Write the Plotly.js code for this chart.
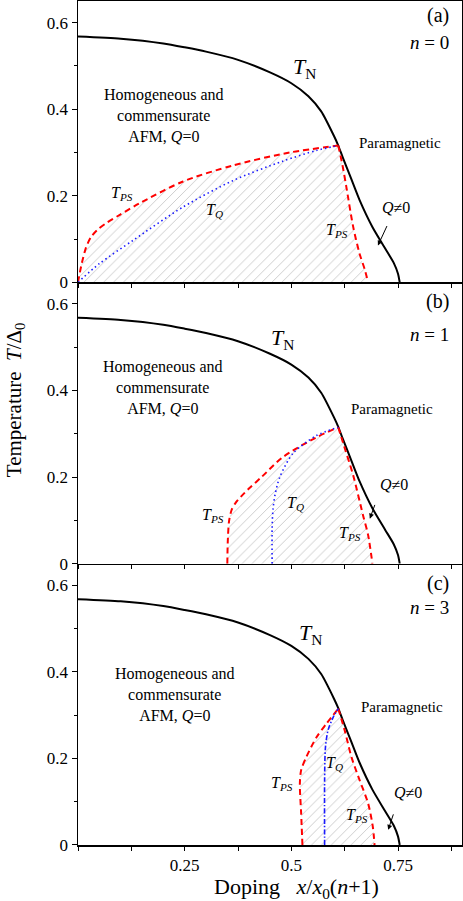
<!DOCTYPE html>
<html>
<head>
<meta charset="utf-8">
<script src="https://cdn.plot.ly/plotly-3.0.1.min.js"></script>
<style>
  html, body { margin: 0; padding: 0; background: #fff; }
  #chart { width: 463px; height: 901px; }
</style>
</head>
<body>
<div id="chart"></div>
<script>
/* Phase diagram T/Delta0 vs doping for n = 0, 1, 3. Values. */
(function () {
  "use strict";

  // Neel temperature T_N (same curve in all three panels)
  var TN_X = [0, 0.1, 0.2, 0.25, 0.3, 0.375, 0.45, 0.5, 0.54, 0.57, 0.6, 0.61, 0.62, 0.64, 0.66, 0.69, 0.72, 0.74, 0.75, 0.754];
  var TN_Y = [0.568, 0.563, 0.552, 0.543, 0.533, 0.514, 0.485, 0.46, 0.43, 0.395, 0.338, 0.316, 0.29, 0.24, 0.19, 0.128, 0.078, 0.045, 0.02, 0];

  // panel (a), n = 0
  var PS_LEFT_A_X = [0, 0.008, 0.018, 0.03, 0.045, 0.065, 0.098, 0.145, 0.246, 0.363, 0.496, 0.61];
  var PS_LEFT_A_Y = [0, 0.04, 0.078, 0.104, 0.121, 0.136, 0.156, 0.183, 0.233, 0.27, 0.30, 0.316];
  var PS_RIGHT_A_X = [0.61, 0.62, 0.629, 0.645, 0.66, 0.672, 0.68];
  var PS_RIGHT_A_Y = [0.316, 0.27, 0.22, 0.128, 0.066, 0.03, 0];
  var TQ_A_X = [0, 0.05, 0.129, 0.246, 0.363, 0.48, 0.56, 0.61];
  var TQ_A_Y = [0, 0.043, 0.097, 0.174, 0.235, 0.28, 0.305, 0.316];

  // panel (b), n = 1
  var PS_LEFT_B_X = [0.35, 0.351, 0.354, 0.36, 0.369, 0.382, 0.4, 0.43, 0.48, 0.559, 0.61];
  var PS_LEFT_B_Y = [0, 0.05, 0.098, 0.124, 0.14, 0.155, 0.173, 0.2, 0.246, 0.292, 0.315];
  var PS_RIGHT_B_X = [0.61, 0.621, 0.645, 0.668, 0.68, 0.69];
  var PS_RIGHT_B_Y = [0.315, 0.28, 0.204, 0.112, 0.066, 0];
  var TQ_B_X = [0.455, 0.455, 0.457, 0.462, 0.473, 0.504, 0.559, 0.61];
  var TQ_B_Y = [0, 0.081, 0.125, 0.16, 0.2, 0.255, 0.296, 0.315];

  // panel (c), n = 3
  var PS_LEFT_C_X = [0.526, 0.523, 0.52, 0.523, 0.535, 0.559, 0.582, 0.61];
  var PS_LEFT_C_Y = [0, 0.073, 0.142, 0.173, 0.203, 0.249, 0.28, 0.315];
  var PS_RIGHT_C_X = [0.61, 0.625, 0.641, 0.66, 0.68, 0.691, 0.695];
  var PS_RIGHT_C_Y = [0.315, 0.265, 0.203, 0.15, 0.096, 0.042, 0];
  var TQ_C_X = [0.578, 0.578, 0.58, 0.586, 0.598, 0.61];
  var TQ_C_Y = [0, 0.15, 0.226, 0.265, 0.295, 0.315];

  var X_TICKS = [0, 0.25, 0.5, 0.75];
  var X_TICK_TEXT = ["", "0.25", "0.5", "0.75"];
  var Y_TICKS = [0, 0.2, 0.4, 0.6];
  var Y_TICK_TEXT = ["0", "0.2", "0.4", "0.6"];

  var FONT = "'Liberation Serif', 'Times New Roman', serif";
  var RED = "#ff0000";
  var BLUE = "#1a1aff";

  function panelTraces(xa, ya, lx, ly, rx, ry, qx, qy, qdash) {
    return [
      { // hatched two-phase region
        type: "scatter", mode: "lines", xaxis: xa, yaxis: ya,
        x: lx.concat(rx), y: ly.concat(ry),
        fill: "toself", fillcolor: "rgba(0,0,0,0)",
        fillpattern: { shape: "/", fgcolor: "#c4c4c4", bgcolor: "#ffffff", size: 7, solidity: 0.12 },
        line: { width: 0, color: "rgba(0,0,0,0)", shape: "spline", smoothing: 0.8 }, hoverinfo: "skip"
      },
      { type: "scatter", mode: "lines", xaxis: xa, yaxis: ya, x: TN_X, y: TN_Y,
        line: { color: "#000", width: 2, shape: "spline", smoothing: 0.6 } },
      { type: "scatter", mode: "lines", xaxis: xa, yaxis: ya, x: lx, y: ly,
        line: { color: RED, width: 2, dash: "6px,4px", shape: "spline", smoothing: 0.8 } },
      { type: "scatter", mode: "lines", xaxis: xa, yaxis: ya, x: rx, y: ry,
        line: { color: RED, width: 2, dash: "6px,4px", shape: "spline", smoothing: 0.8 } },
      { type: "scatter", mode: "lines", xaxis: xa, yaxis: ya, x: qx, y: qy,
        line: { color: BLUE, width: 1.6, dash: qdash, shape: "spline", smoothing: 0.8 } }
    ];
  }

  var traces = []
    .concat(panelTraces("x3", "y3", PS_LEFT_A_X, PS_LEFT_A_Y, PS_RIGHT_A_X, PS_RIGHT_A_Y, TQ_A_X, TQ_A_Y, "1.5px,3px"))
    .concat(panelTraces("x2", "y2", PS_LEFT_B_X, PS_LEFT_B_Y, PS_RIGHT_B_X, PS_RIGHT_B_Y, TQ_B_X, TQ_B_Y, "1.5px,3px"))
    .concat(panelTraces("x", "y", PS_LEFT_C_X, PS_LEFT_C_Y, PS_RIGHT_C_X, PS_RIGHT_C_Y, TQ_C_X, TQ_C_Y, "5px,2px,1.5px,2px"));

  function xAxis(anchor, labels, mirror) {
    return {
      anchor: anchor, range: [0, 0.9], showgrid: false, zeroline: false,
      showline: true, linecolor: "#000", linewidth: 1.5, mirror: mirror,
      tickmode: "array", tickvals: X_TICKS, ticktext: X_TICK_TEXT,
      showticklabels: labels, ticks: "outside", ticklen: 4, tickwidth: 1, tickcolor: "#000",
      minor: { tickmode: "array", tickvals: [0.125, 0.375, 0.625, 0.875], ticks: "outside", ticklen: 4, tickcolor: "#000" },
      tickfont: { family: FONT, size: 17, color: "#000" }
    };
  }
  function yAxis(anchor, domain) {
    return {
      anchor: anchor, domain: domain, range: [0, 0.65], showgrid: false, zeroline: false,
      showline: true, linecolor: "#000", linewidth: 1.5, mirror: true,
      tickmode: "array", tickvals: Y_TICKS, ticktext: Y_TICK_TEXT,
      ticks: "outside", ticklen: 5, tickwidth: 1, tickcolor: "#000",
      minor: { tickmode: "array", tickvals: [0.1, 0.3, 0.5], ticks: "outside", ticklen: 3, tickcolor: "#000" },
      tickfont: { family: FONT, size: 17, color: "#000" }
    };
  }

  function txt(xref, yref, x, y, text, size, anchor) {
    return { xref: xref, yref: yref, x: x, y: y, text: text, showarrow: false,
             xanchor: anchor || "center", yanchor: "middle",
             font: { family: FONT, size: size, color: "#000" } };
  }
  function arrow(xref, yref, x, y, ax, ay) {
    return { xref: xref, yref: yref, x: x, y: y, ax: ax, ay: ay, text: " ",
             showarrow: true, arrowhead: 2, arrowsize: 1, arrowwidth: 1, arrowcolor: "#000" };
  }

  var HOMO = "Homogeneous and<br>commensurate<br>AFM, <i>Q</i>=0";
  var TN_LABEL = "<i>T</i><sub>N</sub>";
  var TPS = "<i>T<sub>PS</sub></i>";
  var TQ = "<i>T<sub>Q</sub></i>";
  var QNE = "<i>Q</i>≠0";

  var annotations = [
    // (a)
    txt("x3", "y3", 0.875, 0.617, "(a)", 20, "right"),
    txt("x3", "y3", 0.875, 0.554, "<i>n</i> = 0", 19, "right"),
    txt("x3", "y3", 0.2016, 0.386, HOMO, 16),
    txt("x3", "y3", 0.532, 0.496, TN_LABEL, 22),
    txt("x3", "y3", 0.755, 0.323, "Paramagnetic", 15),
    txt("x3", "y3", 0.103, 0.205, TPS, 16),
    txt("x3", "y3", 0.321, 0.166, TQ, 16),
    txt("x3", "y3", 0.607, 0.12, TPS, 16),
    txt("x3", "y3", 0.745, 0.173, QNE, 16),
    arrow("x3", "y3", 0.703, 0.085, 12, -26),
    // (b)
    txt("x2", "y2", 0.875, 0.606, "(b)", 20, "right"),
    txt("x2", "y2", 0.875, 0.53, "<i>n</i> = 1", 19, "right"),
    txt("x2", "y2", 0.199, 0.408, HOMO, 16),
    txt("x2", "y2", 0.48, 0.518, TN_LABEL, 22),
    txt("x2", "y2", 0.736, 0.357, "Paramagnetic", 15),
    txt("x2", "y2", 0.316, 0.111, TPS, 16),
    txt("x2", "y2", 0.509, 0.138, TQ, 16),
    txt("x2", "y2", 0.637, 0.069, TPS, 16),
    txt("x2", "y2", 0.74, 0.184, QNE, 16),
    arrow("x2", "y2", 0.684, 0.104, 8, -22),
    // (c)
    txt("x", "y", 0.875, 0.604, "(c)", 20, "right"),
    txt("x", "y", 0.875, 0.548, "<i>n</i> = 3", 19, "right"),
    txt("x", "y", 0.227, 0.348, HOMO, 16),
    txt("x", "y", 0.544, 0.488, TN_LABEL, 22),
    txt("x", "y", 0.759, 0.318, "Paramagnetic", 15),
    txt("x", "y", 0.478, 0.141, TPS, 16),
    txt("x", "y", 0.602, 0.189, TQ, 16),
    txt("x", "y", 0.654, 0.069, TPS, 16),
    txt("x", "y", 0.773, 0.122, QNE, 16),
    arrow("x", "y", 0.727, 0.035, 8, -24),
    // axis titles
    { xref: "paper", yref: "paper", x: -0.164, y: 0.527, textangle: -90, showarrow: false,
      text: "Temperature  <i>T</i>/Δ<sub>0</sub>", xanchor: "center", yanchor: "middle",
      font: { family: FONT, size: 21, color: "#000" } },
    { xref: "paper", yref: "paper", x: 0.57, y: -0.051, showarrow: false,
      text: "Doping   <i>x</i>/<i>x</i><sub>0</sub>(<i>n</i>+1)", xanchor: "center", yanchor: "middle",
      font: { family: FONT, size: 22, color: "#000" } }
  ];

  var layout = {
    width: 463, height: 901,
    margin: { l: 78, r: 1, t: 1, b: 56 },
    paper_bgcolor: "#fff", plot_bgcolor: "#fff",
    showlegend: false,
    font: { family: FONT, color: "#000" },
    xaxis: xAxis("y", true, false),
    yaxis: yAxis("x", [0, 1 / 3]),
    xaxis2: xAxis("y2", false, false),
    yaxis2: yAxis("x2", [1 / 3, 2 / 3]),
    xaxis3: xAxis("y3", false, true),
    yaxis3: yAxis("x3", [2 / 3, 1]),
    annotations: annotations
  };

  Plotly.newPlot("chart", traces, layout, { displayModeBar: false, staticPlot: true });
})();
</script>
</body>
</html>
